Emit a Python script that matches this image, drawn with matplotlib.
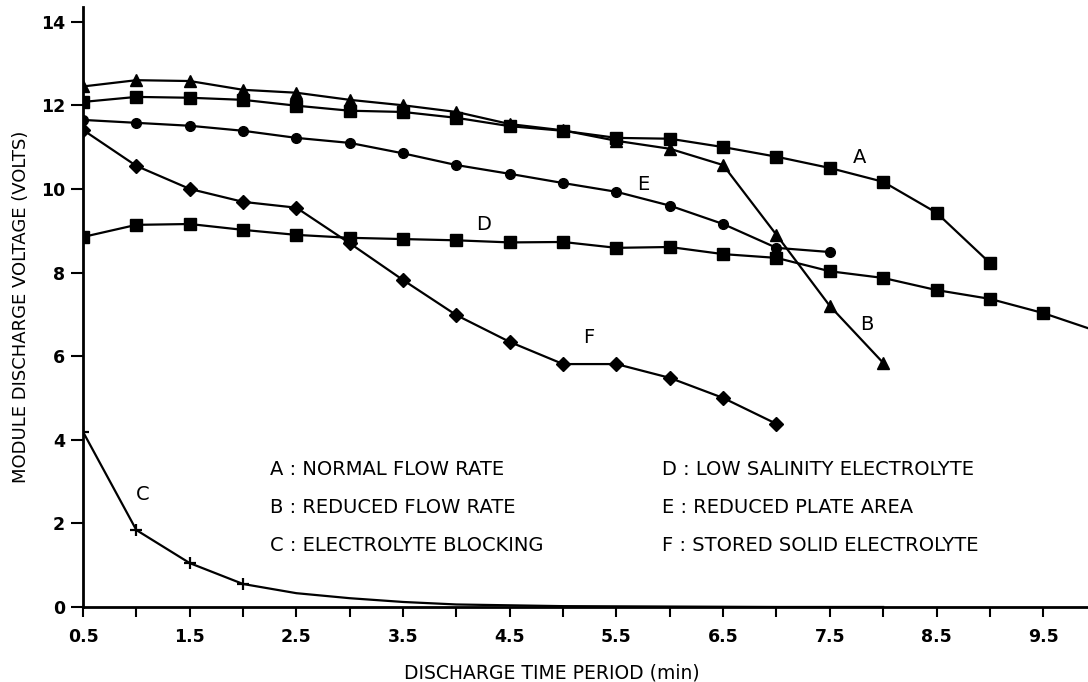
# =========================== 1. 导入 ===========================
import matplotlib
matplotlib.use('Agg')
import numpy as np
import matplotlib.pyplot as plt
from matplotlib.ticker import MultipleLocator

# =========================== 2. 数据 ===========================
time_a = [0.5, 1.0, 1.5, 2.0, 2.5, 3.0, 3.5, 4.0, 4.5, 5.0, 5.5, 6.0, 6.5, 7.0, 7.5, 8.0, 8.5, 9.0]
volt_a = [12.08, 12.2, 12.18, 12.13, 11.99, 11.87, 11.84, 11.7, 11.5, 11.39, 11.22, 11.2, 11.0, 10.77,
          10.5, 10.17, 9.43, 8.23]

time_b = [0.5, 1.0, 1.5, 2.0, 2.5, 3.0, 3.5, 4.0, 4.5, 5.0, 5.5, 6.0, 6.5, 7.0, 7.5, 8.0]
volt_b = [12.45, 12.6, 12.58, 12.37, 12.3, 12.13, 12.0, 11.84, 11.55, 11.4, 11.15, 10.96, 10.57,
          8.9, 7.2, 5.84]

time_c = [0.5, 1.0, 1.5, 2.0, 2.5, 3.0, 3.5, 4.0, 4.5, 5.0, 6.0, 7.0, 8.0]
volt_c = [4.19, 1.84, 1.05, 0.55, 0.33, 0.21, 0.12, 0.06, 0.04, 0.02, 0.01, 0.0, 0.0]

time_d = [0.5, 1.0, 1.5, 2.0, 2.5, 3.0, 3.5, 4.0, 4.5, 5.0, 5.5, 6.0, 6.5, 7.0, 7.5, 8.0, 8.5, 9.0,
          9.5, 10.0]
volt_d = [8.85, 9.14, 9.16, 9.02, 8.9, 8.83, 8.8, 8.77, 8.72, 8.73, 8.59, 8.61, 8.44, 8.35, 8.03,
          7.87, 7.58, 7.37, 7.03, 6.6]

time_e = [0.5, 1.0, 1.5, 2.0, 2.5, 3.0, 3.5, 4.0, 4.5, 5.0, 5.5, 6.0, 6.5, 7.0, 7.5]
volt_e = [11.65, 11.58, 11.51, 11.39, 11.22, 11.1, 10.85, 10.57, 10.36, 10.14, 9.93, 9.6, 9.16,
          8.59, 8.49]

time_f = [0.5, 1.0, 1.5, 2.0, 2.5, 3.0, 3.5, 4.0, 4.5, 5.0, 5.5, 6.0, 6.5, 7.0]
volt_f = [11.41, 10.55, 10.0, 9.69, 9.55, 8.7, 7.82, 6.98, 6.34, 5.81, 5.81, 5.48, 5.0, 4.38]

curve_names = ['A', 'B', 'C', 'D', 'E', 'F']
curve_desc = ['NORMAL FLOW RATE', 'REDUCED FLOW RATE', 'ELECTROLYTE BLOCKING',
              'LOW SALINITY ELECTROLYTE', 'REDUCED PLATE AREA', 'STORED SOLID ELECTROLYTE']

x_ticks = [0.5, 1.5, 2.5, 3.5, 4.5, 5.5, 6.5, 7.5, 8.5, 9.5]
y_ticks = [0, 2, 4, 6, 8, 10, 12, 14]

# =========================== 3. 绘图 ===========================
plt.rcParams['font.family'] = ['DejaVu Sans']

fig = plt.figure(figsize=(10.88, 6.82), dpi=100)
ax = fig.add_axes([0.0763, 0.11, 0.9237, 0.8797])

lw = 1.6
ax.plot(time_a, volt_a, color='black', lw=lw, marker='s', ms=8)
ax.plot(time_b, volt_b, color='black', lw=lw, marker='^', ms=8)
ax.plot(time_c, volt_c, color='black', lw=lw, marker='+', ms=8, mew=1.6, markevery=[0, 1, 2, 3])
ax.plot(time_d, volt_d, color='black', lw=lw, marker='s', ms=8)
ax.plot(time_e, volt_e, color='black', lw=lw, marker='o', ms=7)
ax.plot(time_f, volt_f, color='black', lw=lw, marker='D', ms=7.5)

# 曲线标注
label_pos = {'A': (7.78, 10.75), 'B': (7.85, 6.75), 'C': (1.06, 2.68),
             'D': (4.25, 9.16), 'E': (5.75, 10.1), 'F': (5.24, 6.44)}
for name in curve_names:
    lx, ly = label_pos[name]
    ax.text(lx, ly, name, fontsize=14, ha='center', va='center')

# 图例文字 (两列)
for i, (name, desc) in enumerate(zip(curve_names, curve_desc)):
    col_x = 2.25 if i < 3 else 5.93
    row_y = [3.28, 2.37, 1.48][i % 3]
    ax.text(col_x, row_y, f'{name} : {desc}', fontsize=14, ha='left', va='center')

# 坐标轴
ax.set_xlim(0.5, 9.92)
ax.set_ylim(0, 14.35)
ax.set_xticks(x_ticks)
ax.set_xticklabels([f'{v:g}' for v in x_ticks], fontsize=12.5, fontweight='bold')
ax.xaxis.set_minor_locator(MultipleLocator(1.0))
ax.set_yticks(y_ticks)
ax.set_yticklabels([str(v) for v in y_ticks], fontsize=12.5, fontweight='bold')
ax.tick_params(axis='x', which='both', direction='out', length=7, width=1.5, pad=8)
ax.tick_params(axis='y', direction='out', length=9, width=1.5, pad=4)

for side in ['top', 'right']:
    ax.spines[side].set_visible(False)
for side in ['left', 'bottom']:
    ax.spines[side].set_linewidth(2)

ax.set_xlabel('DISCHARGE TIME PERIOD (min)', fontsize=13.5)
ax.xaxis.set_label_coords(0.466, -0.095)
ax.set_ylabel('MODULE DISCHARGE VOLTAGE (VOLTS)', fontsize=13)
ax.yaxis.set_label_coords(-0.053, 0.5)

fig.savefig('out.png', dpi=100)
